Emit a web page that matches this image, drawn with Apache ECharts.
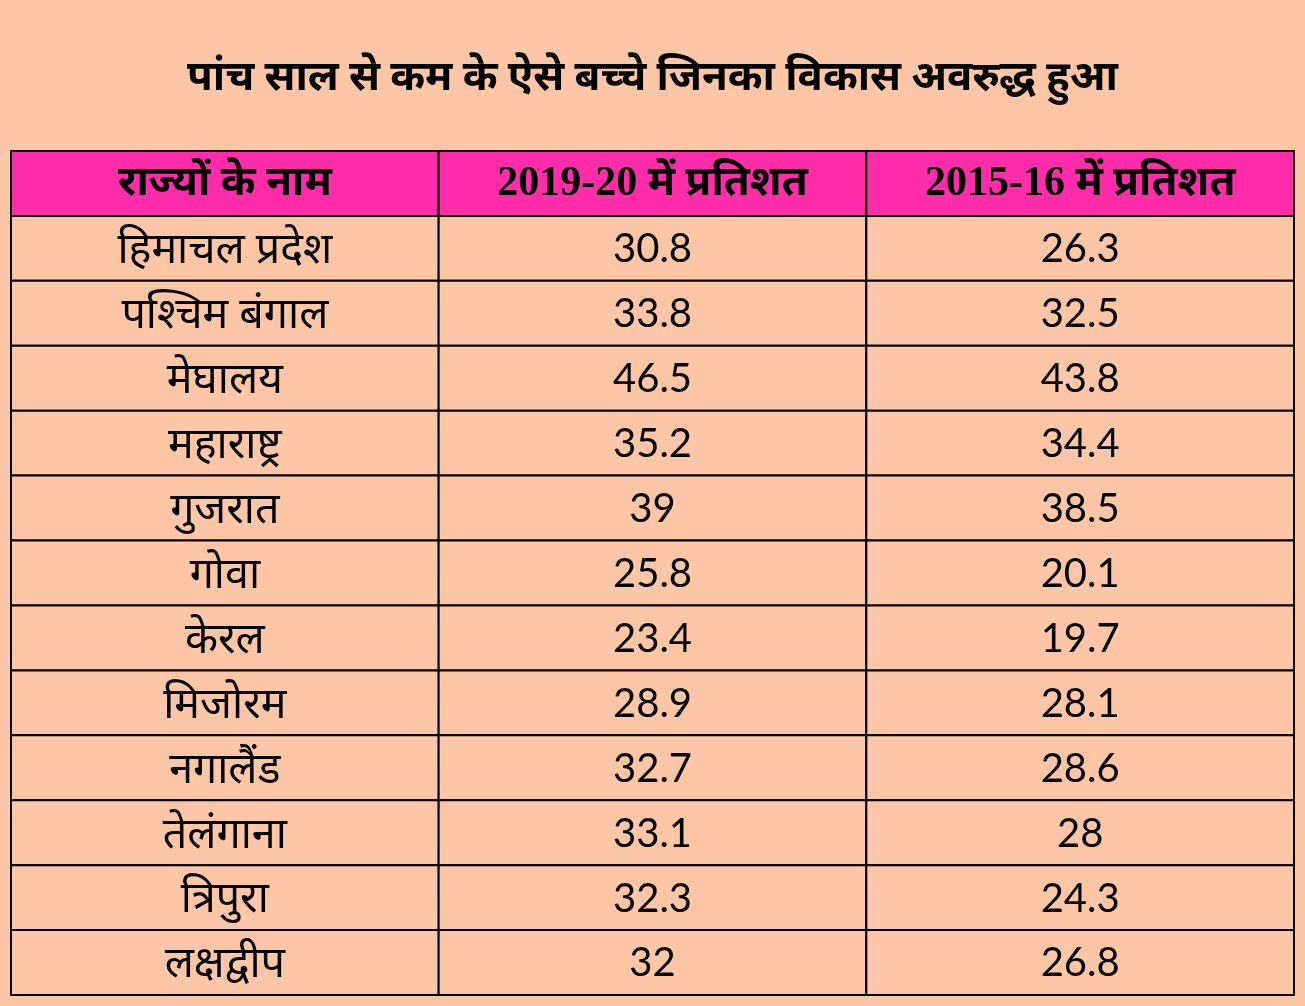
<!DOCTYPE html>
<html>
<head>
<meta charset="utf-8">
<script src="https://cdn.jsdelivr.net/npm/echarts@6/dist/echarts.min.js"></script>
<style>
html,body{margin:0;padding:0;background:#FDC6A6;}
#chart{width:1305px;height:1006px;}
</style>
</head>
<body>
<div id="chart"></div>
<script>
const titleText = 'पांच साल से कम के ऐसे बच्चे जिनका विकास अवरुद्ध हुआ';
const headers = ['राज्यों के नाम', '2019-20 में प्रतिशत', '2015-16 में प्रतिशत'];
const states = ['हिमाचल प्रदेश', 'पश्चिम बंगाल', 'मेघालय', 'महाराष्ट्र', 'गुजरात', 'गोवा', 'केरल', 'मिजोरम', 'नगालैंड', 'तेलंगाना', 'त्रिपुरा', 'लक्षद्वीप'];
const values2019 = [30.8, 33.8, 46.5, 35.2, 39, 25.8, 23.4, 28.9, 32.7, 33.1, 32.3, 32];
const values2015 = [26.3, 32.5, 43.8, 34.4, 38.5, 20.1, 19.7, 28.1, 28.6, 28, 24.3, 26.8];

const rowCats = ['h'].concat(states.map((s, i) => 'r' + i));
const colCats = ['c0', 'c1', 'c2'];

// [col, row, text, kind] kind: 1 header, 2 state name, 0 number
const cells = [];
headers.forEach((h, c) => cells.push([c, 0, h, 1]));
states.forEach((s, i) => {
  cells.push([0, i + 1, s, 2]);
  cells.push([1, i + 1, String(values2019[i]), 0]);
  cells.push([2, i + 1, String(values2015[i]), 0]);
});

const chart = echarts.init(document.getElementById('chart'), null, {renderer: 'canvas'});
chart.setOption({
  backgroundColor: '#FDC6A6',
  animation: false,
  title: {
    text: titleText,
    left: 'center',
    top: 50,
    textStyle: {fontSize: 42, fontWeight: 'bold', color: '#000', fontFamily: 'Lato, "Noto Sans", sans-serif'}
  },
  grid: {left: 11, right: 11, top: 151, bottom: 11},
  xAxis: {type: 'category', data: colCats, show: false},
  yAxis: {type: 'category', data: rowCats, inverse: true, show: false},
  series: [{
    type: 'custom',
    data: cells,
    encode: {x: 0, y: 1},
    renderItem: function (params, api) {
      const p = api.coord([api.value(0), api.value(1)]);
      const s = api.size([1, 1]);
      const kind = api.value(3);
      const isHead = kind === 1;
      const txt = cells[params.dataIndex][2];
      return {
        type: 'group',
        children: [{
          type: 'rect',
          shape: {x: p[0] - s[0] / 2, y: p[1] - s[1] / 2, width: s[0], height: s[1]},
          style: {fill: isHead ? '#FF2DAA' : '#FDC6A6', stroke: '#000', lineWidth: 2}
        }, {
          type: 'text',
          x: p[0], y: p[1] + 1,
          style: {
            text: txt,
            align: 'center', verticalAlign: 'middle',
            fontSize: isHead ? 42 : (kind === 2 ? 43 : 40),
            fontWeight: isHead ? 'bold' : 'normal',
            fontFamily: isHead ? '"Liberation Serif", "Noto Sans", serif' : 'Lato, "Noto Sans", sans-serif',
            fill: '#000'
          }
        }]
      };
    }
  }]
});
</script>
</body>
</html>
